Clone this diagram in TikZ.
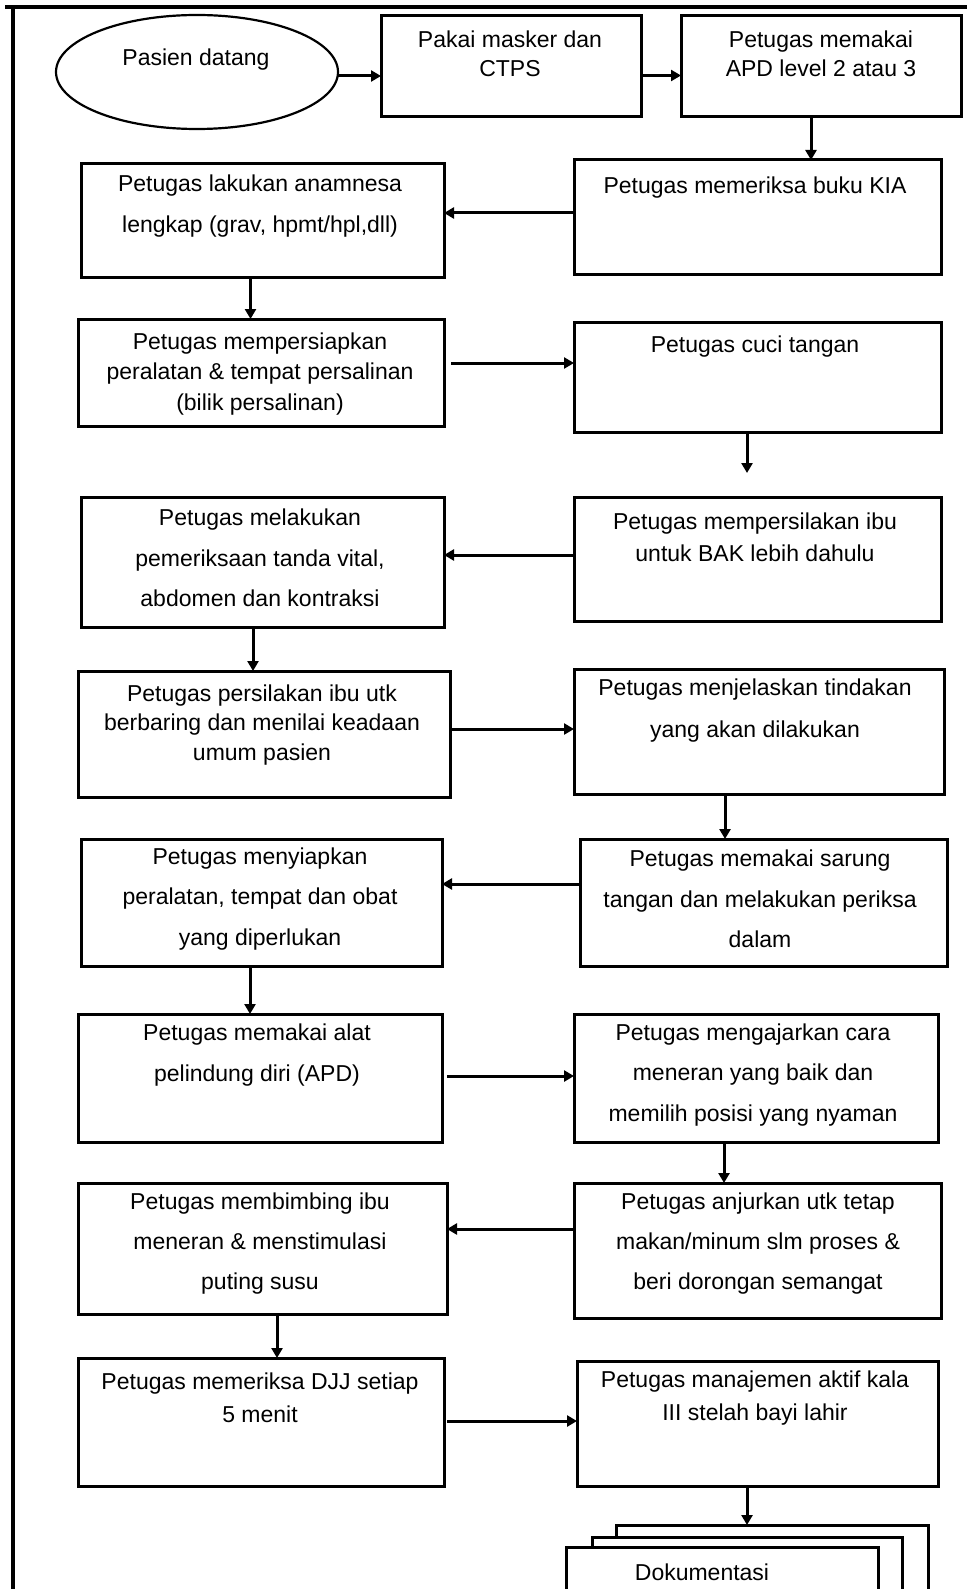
\documentclass[tikz,border=0pt]{standalone}
\usepackage{fontspec}
\setmainfont{Liberation Sans}
\usetikzlibrary{arrows.meta,shapes.geometric,calc}
\begin{document}
\begin{tikzpicture}[x=1pt,y=-1pt,
  box/.style={draw,line width=3pt,rectangle,fill=white,inner sep=0pt,outer sep=0pt},
  ellbox/.style={draw,line width=2.2pt,ellipse,inner sep=0pt,outer sep=0pt},
  txt/.style={font=\fontsize{23}{#1}\selectfont,align=center,inner sep=0pt},
  txt/.default=31,
  arr/.style={line width=3pt,-{Triangle[length=10pt,width=11pt]}},
  framel/.style={line width=4pt}]
\useasboundingbox (0,0) rectangle (967,1589);
\clip (0,0) rectangle (967,1589);
% outer frame
\draw[framel] (5,7) -- (967,7);
\draw[framel] (13,7) -- (13,1589);
% boxes
\node[ellbox,minimum width=282pt,minimum height=114pt] (pas) at (197,72) {};
\node[box,minimum width=260pt,minimum height=101pt] (b2) at (511,66.5) {};
\node[box,minimum width=280pt,minimum height=101pt] (b3) at (821,66.5) {};
\node[box,minimum width=367pt,minimum height=114pt] (kia) at (757.5,217) {};
\node[box,minimum width=363pt,minimum height=113pt] (anam) at (262.5,220.5) {};
\node[box,minimum width=366pt,minimum height=107pt] (siap) at (261,372.5) {};
\node[box,minimum width=367pt,minimum height=110pt] (cuci) at (757.5,377) {};
\node[box,minimum width=367pt,minimum height=124pt] (bak) at (757.5,559) {};
\node[box,minimum width=363pt,minimum height=130pt] (vital) at (262.5,562) {};
\node[box,minimum width=372pt,minimum height=126pt] (baring) at (264,734) {};
\node[box,minimum width=370pt,minimum height=125pt] (jelas) at (759,731.5) {};
\node[box,minimum width=367pt,minimum height=127pt] (sarung) at (763.5,902.5) {};
\node[box,minimum width=361pt,minimum height=127pt] (nyiap) at (261.5,902.5) {};
\node[box,minimum width=364pt,minimum height=128pt] (alat) at (260,1078) {};
\node[box,minimum width=364pt,minimum height=128pt] (ajar) at (756,1078) {};
\node[box,minimum width=367pt,minimum height=135pt] (anjur) at (757.5,1250.5) {};
\node[box,minimum width=369pt,minimum height=131pt] (bimbing) at (262.5,1248.5) {};
\node[box,minimum width=366pt,minimum height=128pt] (djj) at (261,1422) {};
\node[box,minimum width=361pt,minimum height=125pt] (mana) at (757.5,1423.5) {};
% documents stack
\node[box,minimum width=312pt,minimum height=75pt] (dokc) at (772,1562.5) {};
\node[box,minimum width=310pt,minimum height=63pt] (dokb) at (747,1568.5) {};
\node[box,minimum width=312pt,minimum height=53pt] (dok) at (722,1573.5) {};
% texts
\node[txt] (past) at (196,60) {Pasien datang};
\node[txt=29] (b2t) at (510,54) {Pakai masker dan\\CTPS};
\node[txt=29] (b3t) at (821,54) {Petugas memakai\\APD level 2 atau 3};
\node[txt] (kiat) at (755,188) {Petugas memeriksa buku KIA};
\node[txt=41] (anamt) at (260,206) {Petugas lakukan anamnesa\\lengkap (grav, hpmt/hpl,dll)};
\node[txt=30.5] (siapt) at (260,374) {Petugas mempersiapkan\\peralatan \& tempat persalinan\\(bilik persalinan)};
\node[txt] (cucit) at (755,347) {Petugas cuci tangan};
\node[txt=32] (bakt) at (755,537) {Petugas mempersilakan ibu\\untuk BAK lebih dahulu};
\node[txt=40.5] (vitalt) at (260,558) {Petugas melakukan\\pemeriksaan tanda vital,\\abdomen dan kontraksi};
\node[txt=29.5] (baringt) at (262,725) {Petugas persilakan ibu utk\\berbaring dan menilai keadaan\\umum pasien};
\node[txt=42] (jelast) at (755,711) {Petugas menjelaskan tindakan\\yang akan dilakukan};
\node[txt=40.5] (sarungt) at (760,899) {Petugas memakai sarung\\tangan dan melakukan periksa\\dalam};
\node[txt=40.5] (nyiapt) at (260,899) {Petugas menyiapkan\\peralatan, tempat dan obat\\yang diperlukan};
\node[txt=41] (alatt) at (257,1055) {Petugas memakai alat\\pelindung diri (APD)};
\node[txt=40.5] (ajart) at (753,1075) {Petugas mengajarkan cara\\meneran yang baik dan\\memilih posisi yang nyaman};
\node[txt=40] (anjurt) at (758,1244) {Petugas anjurkan utk tetap\\makan/minum slm proses \&\\beri dorongan semangat};
\node[txt=40] (bimbingt) at (260,1244) {Petugas membimbing ibu\\meneran \& menstimulasi\\puting susu};
\node[txt=33] (djjt) at (260,1398) {Petugas memeriksa DJJ setiap\\5 menit};
\node[txt=33] (manat) at (755,1398) {Petugas manajemen aktif kala\\III stelah bayi lahir};
\node[txt] (dokt) at (702,1572) {Dokumentasi};
% connectors
\draw[arr] ($(pas.east)+(0,4)$) -- ($(pas.east -| b2.west)+(0,4)$);
\draw[arr] ($(b2.east)+(0,9)$) -- ($(b2.east -| b3.west)+(0,9)$);
\draw[arr] ($(b3.south)+(-10,0)$) -- ($(b3.south |- kia.north)+(-10,0)$);
\draw[arr] ($(kia.west)+(0,-4)$) -- ($(kia.west -| anam.east)+(0,-4)$);
\draw[arr] ($(anam.south)+(-12,0)$) -- ($(anam.south |- siap.north)+(-12,0)$);
\draw[arr] ($(siap.east)+(7,-9.5)$) -- ($(siap.east -| cuci.west)+(0,-9.5)$);
\coordinate (c1) at (747,473);
\draw[arr] (cuci.south -| c1) -- (c1);
\draw[arr] ($(bak.west)+(0,-4)$) -- ($(bak.west -| vital.east)+(0,-4)$);
\draw[arr] ($(vital.south)+(-9.5,0)$) -- ($(vital.south |- baring.north)+(-9.5,0)$);
\draw[arr] ($(baring.east)+(0,-5)$) -- ($(baring.east -| jelas.west)+(0,-5)$);
\draw[arr] ($(jelas.south)+(-34,0)$) -- ($(jelas.south |- sarung.north)+(-34,0)$);
\draw[arr] ($(sarung.west)+(0,-18.5)$) -- ($(sarung.west -| nyiap.east)+(0,-18.5)$);
\draw[arr] ($(nyiap.south)+(-11.5,0)$) -- ($(nyiap.south |- alat.north)+(-11.5,0)$);
\draw[arr] ($(alat.east)+(5,-2)$) -- ($(alat.east -| ajar.west)+(0,-2)$);
\draw[arr] ($(ajar.south)+(-32,0)$) -- ($(ajar.south |- anjur.north)+(-32,0)$);
\draw[arr] ($(anjur.west)+(0,-21.5)$) -- ($(anjur.west -| bimbing.east)+(0,-21.5)$);
\draw[arr] ($(bimbing.south)+(14.5,0)$) -- ($(bimbing.south |- djj.north)+(14.5,0)$);
\draw[arr] ($(djj.east)+(3,-1)$) -- ($(djj.east -| mana.west)+(0,-1)$);
\draw[arr] ($(mana.south)+(-10.5,0)$) -- ($(mana.south |- dokc.north)+(-10.5,0)$);
\end{tikzpicture}
\end{document}
